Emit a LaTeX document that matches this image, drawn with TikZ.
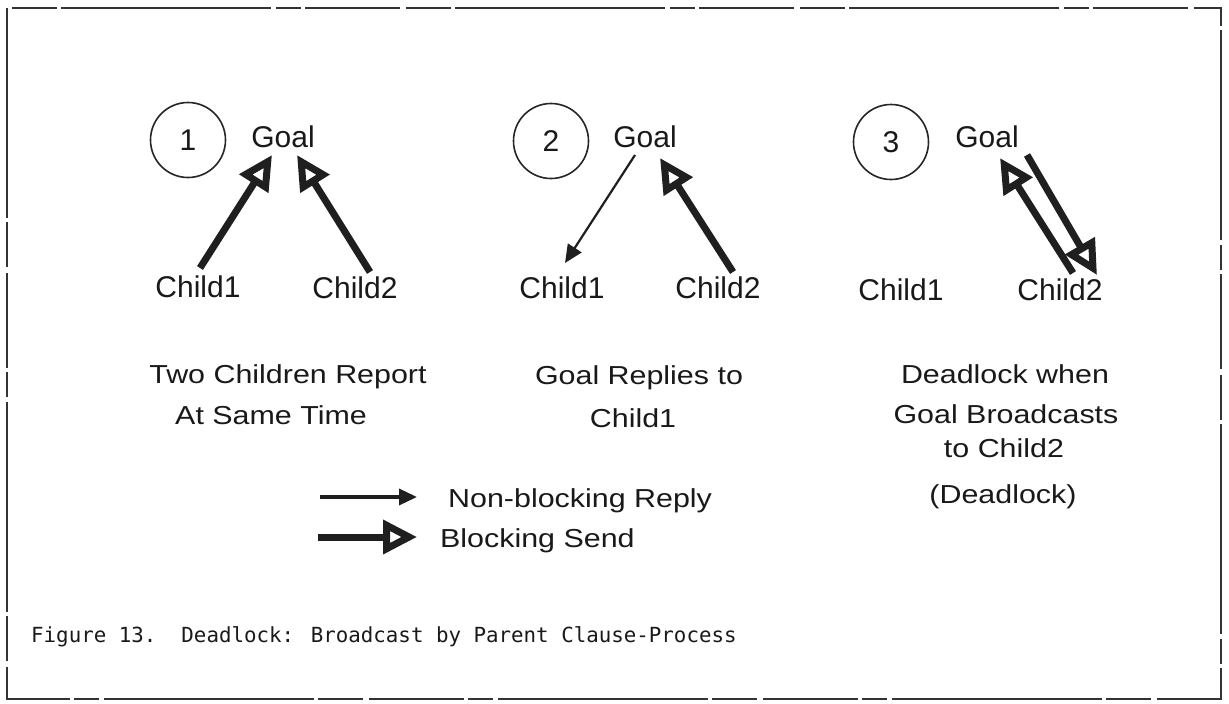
\documentclass[tikz,border=0pt]{standalone}
\usepackage{fontspec}
\usetikzlibrary{arrows.meta,calc}
\newfontfamily\plotlbl{Liberation Sans}
\newfontfamily\plotcap[FakeStretch=1.17]{Liberation Sans}
\newfontfamily\capmono{DejaVu Sans Mono}

\begin{document}
\begin{tikzpicture}[x=1pt,y=-1pt,
  lbl/.style={anchor=base, inner sep=0pt, text=black!90,
    font=\plotlbl\fontsize{30}{36}\selectfont},
  capline/.style={anchor=base, inner sep=0pt, text=black!90,
    font=\plotcap\fontsize{26}{31}\selectfont},
  num/.style={circle, draw=black!85, line width=1.6pt, minimum size=75pt,
    inner sep=0pt, text=black!90, font=\plotlbl\fontsize{30}{34}\selectfont},
  blocksend/.style={draw=black!88, line width=7pt,
    -{Triangle[open, length=34pt, width=33pt, line width=7pt]}},
  reply/.style={draw=black!88, line width=2.2pt,
    -{Triangle[length=18pt, width=16pt]}},
  frame/.style={draw=black!80, line width=2pt,
    dash pattern=on 210pt off 4pt on 45pt off 6pt on 95pt off 4pt on 25pt off 5pt},
]
\useasboundingbox (0,0) rectangle (1229,704);

% outer frame
\draw[frame] (7,8) rectangle (1221,699);

% ---- panel 1: two children report at the same time
\node[num] (n1) at (188,140) {1};
\node[lbl] (g1)  at (283,147) {Goal};
\node[lbl] (c11) at (198,297) {Child1};
\node[lbl] (c12) at (355,298) {Child2};
\draw[blocksend] ($(c11.base)+(2,-29)$) -- ($(g1.base)+(-11,8)$);
\draw[blocksend] ($(c12.base)+(15,-26)$) -- ($(g1.base)+(14,8)$);
\node[capline] (t11) at (288,383) {Two Children Report};
\node[capline] (t12) at (271,424) {At Same Time};

% ---- panel 2: goal replies to Child1
\node[num] (n2) at (551,141) {2};
\node[lbl] (g2)  at (645,147) {Goal};
\node[lbl] (c21) at (562,298) {Child1};
\node[lbl] (c22) at (718,298) {Child2};
\draw[reply] ($(g2.base)+(-10,8)$) -- ($(c21.base)+(3,-35)$);
\draw[blocksend] ($(c22.base)+(15,-26)$) -- ($(g2.base)+(15,11)$);
\node[capline] (t21) at (639,384) {Goal Replies to};
\node[capline] (t22) at (633,427) {Child1};

% ---- panel 3: deadlock on broadcast
\node[num] (n3) at (891,142) {3};
\node[lbl] (g3)  at (987,147) {Goal};
\node[lbl] (c31) at (901,300) {Child1};
\node[lbl] (c32) at (1060,300) {Child2};
\draw[blocksend] ($(c32.base)+(13,-27)$) -- ($(g3.base)+(13,11)$);
\draw[blocksend] ($(g3.base)+(40,8)$) -- ($(c32.base)+(37,-25)$);
\node[capline] (t31) at (1005,383) {Deadlock when};
\node[capline] (t32) at (1006,423) {Goal Broadcasts};
\node[capline] (t33) at (1004,457) {to Child2};
\node[capline] (t34) at (1003,503) {(Deadlock)};

% ---- legend
\coordinate (k1a) at (320,497);
\coordinate (k1b) at (417,497);
\coordinate (k2a) at (318,537);
\coordinate (k2b) at (417,537);
\draw[reply, line width=3.5pt] (k1a) -- (k1b);
\draw[blocksend] (k2a) -- (k2b);
\node[capline, anchor=base west] (k1t) at (448,507) {Non-blocking Reply};
\node[capline, anchor=base west] (k2t) at (440,547) {Blocking Send};

% ---- figure caption
\node[anchor=base west, inner sep=0pt, text=black!90,
  font=\capmono\fontsize{20.8}{24}\selectfont] (figcap) at (31,642)
  {Figure 13.\ \ Deadlock: Broadcast by Parent Clause-Process};
\end{tikzpicture}
\end{document}
